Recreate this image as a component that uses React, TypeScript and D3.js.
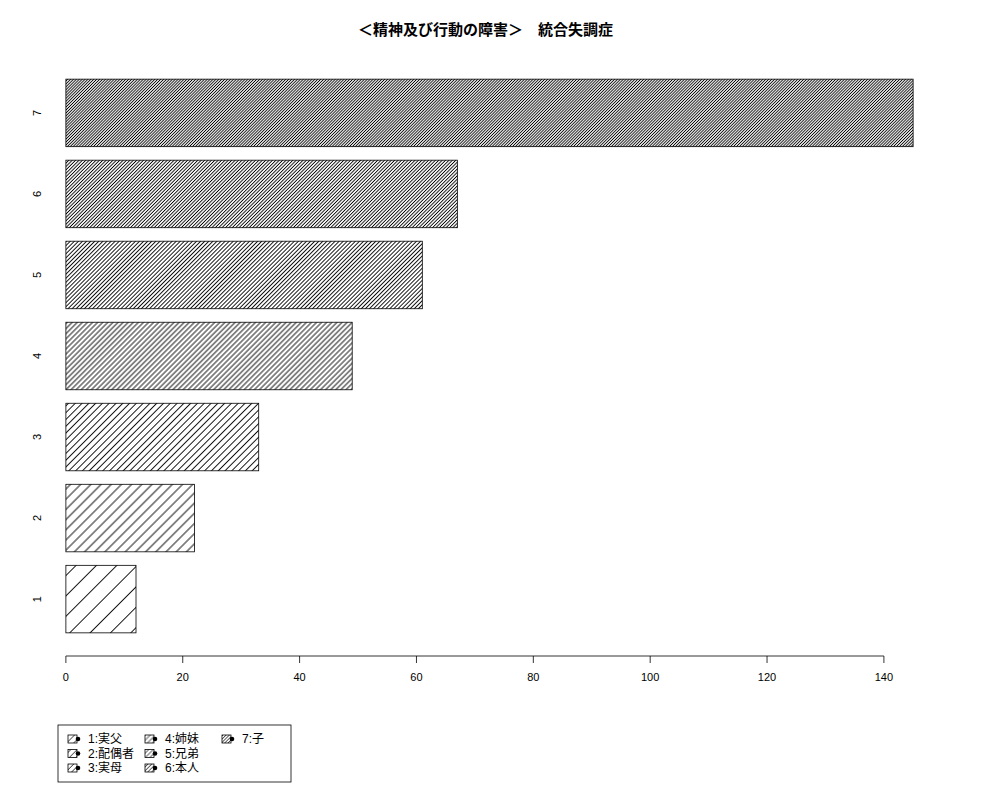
import * as d3 from "d3";

const categories = ["1", "2", "3", "4", "5", "6", "7"];
const values = [12, 22, 33, 49, 61, 67, 145];
const densities = [5, 10, 15, 20, 25, 30, 35];
const legendLabels = ["1:実父", "2:配偶者", "3:実母", "4:姉妹", "5:兄弟", "6:本人", "7:子"];
const xTicks = [0, 20, 40, 60, 80, 100, 120, 140];
const title = "＜精神及び行動の障害＞　統合失調症";

const W = 1000;
const H = 800;
const plot = { left: 32, right: 947, top: 57, bottom: 655 };
const font = "'Liberation Sans', 'Noto Sans CJK JP', sans-serif";

export default function App() {
  const x = d3.scaleLinear().domain([-5.8, 150.8]).range([plot.left, plot.right]);
  // R barplot: width 1, space 0.2, ylim extended by 4%
  const y = d3.scaleLinear().domain([-0.128, 8.728]).range([plot.bottom, plot.top]);
  const bars = values.map((v, i) => ({
    cat: categories[i],
    value: v,
    lo: 0.2 + i * 1.2,
    hi: 1.2 + i * 1.2,
    density: densities[i],
  }));

  return (
    <svg
      width={W}
      height={H}
      style={{ position: "absolute", left: 0, top: 0, background: "#fff" }}
      fontFamily={font}
    >
      <defs>
        {bars.map((b, i) => {
          const gap = 72 / b.density;
          return (
            <pattern
              key={i}
              id={`hatch${i}`}
              patternUnits="userSpaceOnUse"
              width={gap}
              height={gap}
              patternTransform="rotate(45)"
            >
              <line x1={gap / 2} y1={-1} x2={gap / 2} y2={gap + 1} stroke="#000" strokeWidth={0.9} />
            </pattern>
          );
        })}
        {legendLabels.map((_, i) => {
          const g = 5 - i * 0.45;
          return (
            <pattern
              key={i}
              id={`lhatch${i}`}
              patternUnits="userSpaceOnUse"
              width={g}
              height={g}
              patternTransform="rotate(45)"
            >
              <line x1={g / 2} y1={-1} x2={g / 2} y2={g + 1} stroke="#000" strokeWidth={0.6} />
            </pattern>
          );
        })}
      </defs>

      <text
        x={(plot.left + plot.right) / 2 - 4}
        y={35}
        textAnchor="middle"
        fontSize={15}
        fontWeight="bold"
      >
        {title}
      </text>

      {/* Bars */}
      {bars.map((b, i) => (
        <g key={i}>
          <rect
            x={x(0)}
            y={y(b.hi)}
            width={x(b.value) - x(0)}
            height={y(b.lo) - y(b.hi)}
            fill={`url(#hatch${i})`}
            stroke="#000"
            strokeWidth={0.8}
          />
          <text
            transform={`translate(${41},${y((b.lo + b.hi) / 2)}) rotate(-90)`}
            textAnchor="middle"
            fontSize={11}
          >
            {b.cat}
          </text>
        </g>
      ))}

      {/* X axis */}
      <g>
        <line x1={x(0)} x2={x(140)} y1={656} y2={656} stroke="#000" strokeWidth={0.8} />
        {xTicks.map((t) => (
          <g key={t}>
            <line x1={x(t)} x2={x(t)} y1={656} y2={663} stroke="#000" strokeWidth={0.8} />
            <text x={x(t)} y={681} textAnchor="middle" fontSize={11}>
              {t}
            </text>
          </g>
        ))}
      </g>

      {/* Legend */}
      <rect x={58} y={725} width={233} height={57} fill="#fff" stroke="#000" strokeWidth={0.8} />
      {legendLabels.map((lab, i) => {
        const col = Math.floor(i / 3);
        const row = i % 3;
        const ix = 68 + col * 77;
        const iy = 739 + row * 14.5;
        return (
          <g key={i}>
            <rect
              x={ix}
              y={iy - 4}
              width={9}
              height={8}
              fill={`url(#lhatch${i})`}
              stroke="#000"
              strokeWidth={0.8}
            />
            <circle cx={ix + 10} cy={iy} r={2.3} fill="#000" />
            <text x={ix + 20} y={iy + 4} fontSize={12}>
              {lab}
            </text>
          </g>
        );
      })}
    </svg>
  );
}
